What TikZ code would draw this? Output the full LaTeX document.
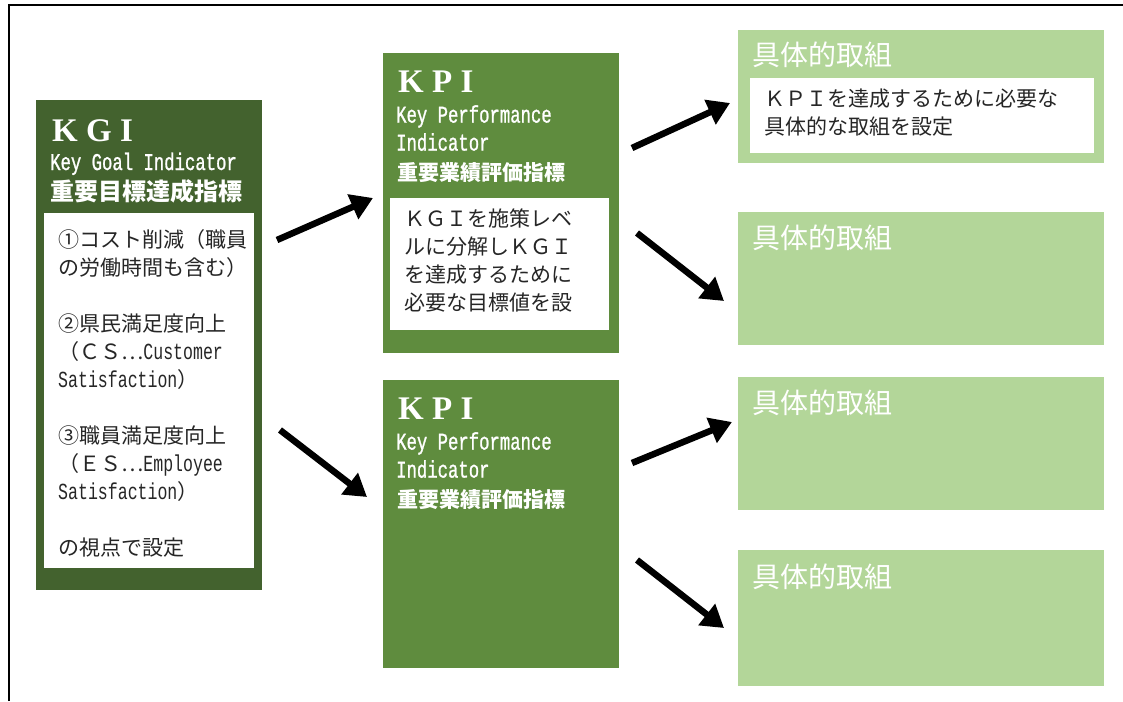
\documentclass[tikz,border=0pt]{standalone}
\usepackage{fontspec}
\setmainfont{Liberation Serif}
\newfontfamily\jafont{Noto Sans CJK JP}
\newfontfamily\latinmono[FakeStretch=0.72]{Liberation Mono}
\newfontfamily\latinhead[FakeStretch=0.72, FakeBold=1]{Liberation Mono}
\usetikzlibrary{arrows.meta, positioning}

\definecolor{kgigreen}{HTML}{43622E}
\definecolor{kpigreen}{HTML}{5F8C3E}
\definecolor{actgreen}{HTML}{B3D699}
\definecolor{bodytext}{HTML}{262626}

\tikzstyle{panel} = [
    rectangle,
    anchor = north west,
    inner sep = 0pt,
    draw = none
]
\tikzstyle{kgibox} = [panel, fill = kgigreen]
\tikzstyle{kpibox} = [panel, fill = kpigreen]
\tikzstyle{actbox} = [panel, fill = actgreen]
\tikzstyle{whitebox} = [panel, fill = white]
\tikzstyle{title} = [
    anchor = base west,
    inner sep = 0pt,
    text = white,
    font = \bfseries\fontsize{33pt}{33pt}\selectfont
]
\tikzstyle{subtitle} = [
    anchor = base west,
    inner sep = 0pt,
    text = white,
    font = \latinhead\fontsize{24pt}{28pt}\selectfont
]
\tikzstyle{jahead} = [
    anchor = base west,
    inner sep = 0pt,
    text = white,
    font = \jafont\bfseries\fontsize{21pt}{28pt}\selectfont
]
\tikzstyle{body} = [
    anchor = north west,
    inner sep = 0pt,
    align = left,
    text = bodytext,
    font = \jafont\fontsize{21pt}{28pt}\selectfont
]
\tikzstyle{arrow} = [line width = 6.5pt, -{Triangle[length = 22pt, width = 26pt]}]

\begin{document}
\begin{tikzpicture}[x = 1pt, y = -1pt]
    \useasboundingbox (0,0) rectangle (1123,701);

    % frame
    \draw[line width = 2.5pt] (9,701) -- (9,5) -- (1123,5);

    % KGI
    \node (kgi) [kgibox, minimum width = 226pt, minimum height = 490pt]
        at (36,100) {};
    \node (kgi inner) [whitebox, minimum width = 210pt, minimum height = 355pt]
        at (44,213) {};
    \node (kgi title) [title] at (52,141) {K G I};
    \node (kgi sub) [subtitle] at (50,170) {Key Goal Indicator};
    \node (kgi ja) [jahead, font = \jafont\bfseries\fontsize{24pt}{28pt}\selectfont]
        at (50,200) {重要目標達成指標};
    \node (kgi text) [body] at (58,229)
        {
            ①コスト削減（職員\\
            の労働時間も含む）\\[28pt]
            ②県民満足度向上\\
            （ＣＳ…{\latinmono\fontsize{23pt}{28pt}\selectfont Customer}\\
            {\latinmono\fontsize{23pt}{28pt}\selectfont Satisfaction}）\\[28pt]
            ③職員満足度向上\\
            （ＥＳ…{\latinmono\fontsize{23pt}{28pt}\selectfont Employee}\\
            {\latinmono\fontsize{23pt}{28pt}\selectfont Satisfaction}）\\[28pt]
            の視点で設定
        };

    % KPI (upper)
    \node (kpi one) [kpibox, minimum width = 236pt, minimum height = 300pt]
        at (383,53) {};
    \node (kpi one inner) [whitebox, minimum width = 219pt, minimum height = 132pt]
        at (390,198) {};
    \node (kpi one title) [title] at (398,92) {K P I};
    \node (kpi one sub) [subtitle, align = left, anchor = north west]
        at (396,105) {Key Performance\\Indicator};
    \node (kpi one ja) [jahead] at (397,180) {重要業績評価指標};
    \node (kpi one text) [body] at (404,209)
        {
            ＫＧＩを施策レベ\\
            ルに分解しＫＧＩ\\
            を達成するために\\
            必要な目標値を設
        };

    % KPI (lower)
    \node (kpi two) [kpibox, minimum width = 236pt, minimum height = 288pt]
        at (383,380) {};
    \node (kpi two title) [title] at (398,419) {K P I};
    \node (kpi two sub) [subtitle, align = left, anchor = north west]
        at (396,432) {Key Performance\\Indicator};
    \node (kpi two ja) [jahead] at (397,507) {重要業績評価指標};

    % actions
    \node (act one) [actbox, minimum width = 366pt, minimum height = 133pt]
        at (738,30) {};
    \node (act one inner) [whitebox, minimum width = 344pt, minimum height = 75pt]
        at (750,78) {};
    \node (act one head) [jahead, font = \jafont\fontsize{28pt}{28pt}\selectfont]
        at (752,65) {具体的取組};
    \node (act one text) [body] at (764,89)
        {
            ＫＰＩを達成するために必要な\\
            具体的な取組を設定
        };

    \node (act two) [actbox, minimum width = 366pt, minimum height = 133pt]
        at (738,212) {};
    \node (act two head) [jahead, font = \jafont\fontsize{28pt}{28pt}\selectfont]
        at (752,248) {具体的取組};

    \node (act three) [actbox, minimum width = 366pt, minimum height = 133pt]
        at (738,377) {};
    \node (act three head) [jahead, font = \jafont\fontsize{28pt}{28pt}\selectfont]
        at (752,413) {具体的取組};

    \node (act four) [actbox, minimum width = 366pt, minimum height = 136pt]
        at (738,550) {};
    \node (act four head) [jahead, font = \jafont\fontsize{28pt}{28pt}\selectfont]
        at (752,587) {具体的取組};

    % arrow ends
    \coordinate (kgi up) at (277,240);
    \coordinate (kpi one in) at (373,198);
    \coordinate (kgi down) at (280,430);
    \coordinate (kpi two in) at (367,497);
    \coordinate (kpi one up) at (632,148);
    \coordinate (act one in) at (730,103);
    \coordinate (kpi one down) at (637,233);
    \coordinate (act two in) at (724,301);
    \coordinate (kpi two up) at (632,463);
    \coordinate (act three in) at (732,422);
    \coordinate (kpi two down) at (637,560);
    \coordinate (act four in) at (724,628);

    \draw [arrow] (kgi up) -- (kpi one in);
    \draw [arrow] (kgi down) -- (kpi two in);
    \draw [arrow] (kpi one up) -- (act one in);
    \draw [arrow] (kpi one down) -- (act two in);
    \draw [arrow] (kpi two up) -- (act three in);
    \draw [arrow] (kpi two down) -- (act four in);

\end{tikzpicture}
\end{document}
